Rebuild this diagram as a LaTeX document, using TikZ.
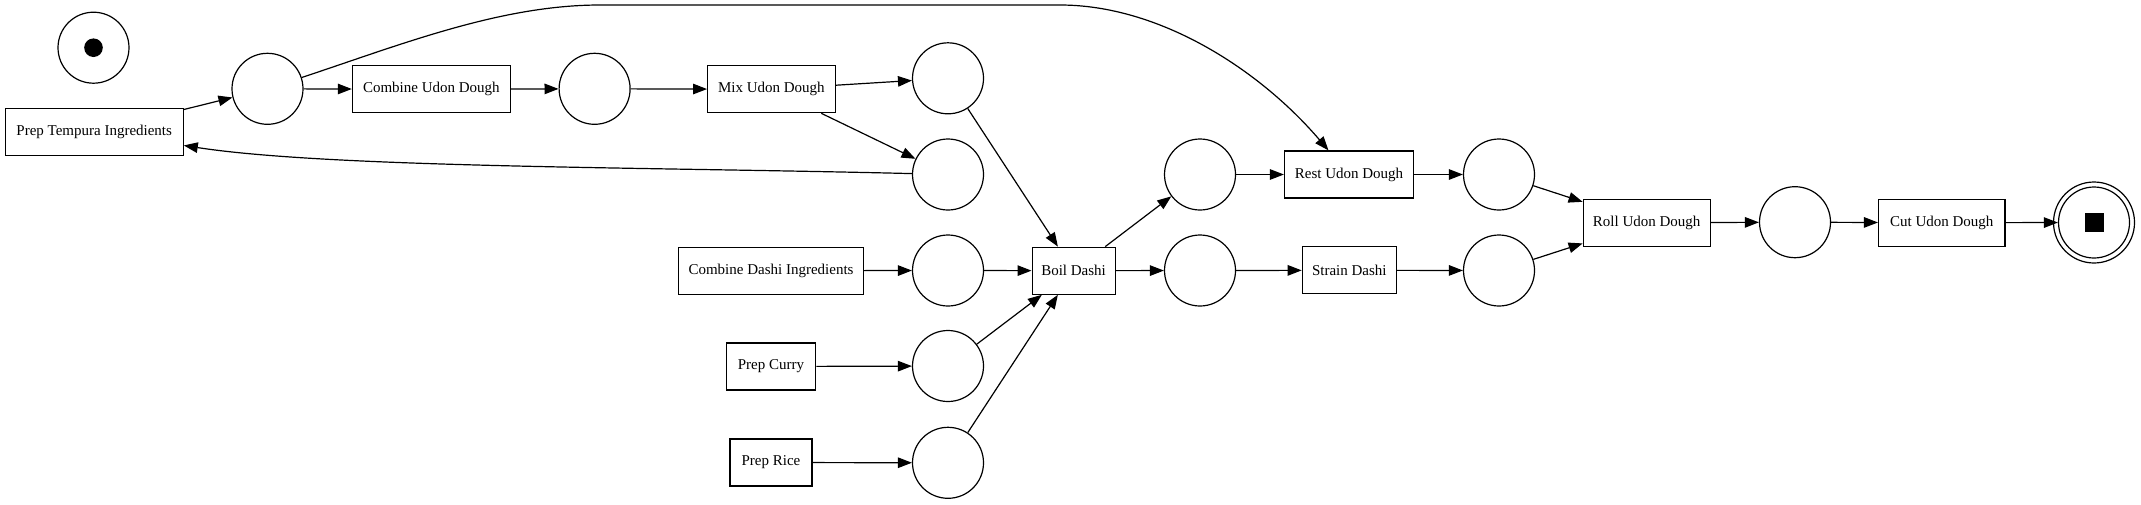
\documentclass[tikz,border=0pt]{standalone}
\usepackage{fontspec}
\setmainfont{Liberation Serif}
\usetikzlibrary{arrows.meta}
\begin{document}
\begin{tikzpicture}[x=1pt,y=-1pt,
  place/.style={draw, circle, minimum size=71pt, inner sep=0pt, line width=1.2pt},
  trans/.style={draw, rectangle, minimum height=47pt, inner sep=0pt, line width=1.2pt, font=\fontsize{15}{18}\selectfont},
  arc/.style={-{Triangle[length=14pt,width=10.5pt]}, line width=1.2pt},
]
\useasboundingbox (0,0) rectangle (2141,504);
% places
\node[place] (start) at (93.5,47.7) {};
\fill (start.center) circle (9.3pt);
\node[place] (p1) at (267.5,88.8) {};
\node[place] (p2) at (594.6,88.8) {};
\node[place] (p3) at (948,78.3) {};
\node[place] (p4) at (948,174.5) {};
\node[place] (p5) at (948,270.5) {};
\node[place] (p6) at (948,366) {};
\node[place] (p7) at (948,462.8) {};
\node[place] (p8) at (1200,174.5) {};
\node[place] (p9) at (1200,270.5) {};
\node[place] (p10) at (1499,174.5) {};
\node[place] (p11) at (1499,270.5) {};
\node[place] (p12) at (1795,222.2) {};
\node[place] (end) at (2094,222.5) {};
\draw[line width=1.2pt] (end.center) circle (40.5pt);
\fill ([xshift=-9.5pt,yshift=-9.5pt]end.center) rectangle ([xshift=9.5pt,yshift=9.5pt]end.center);
% transitions
\node[trans, minimum width=178pt] (tempura) at (94.2,131.7) {Prep Tempura Ingredients};
\node[trans, minimum width=158pt] (combU) at (431.4,89.2) {Combine Udon Dough};
\node[trans, minimum width=127.5pt] (mix) at (771.4,89.2) {Mix Udon Dough};
\node[trans, minimum width=185pt] (combD) at (771,270.7) {Combine Dashi Ingredients};
\node[trans, minimum width=89.5pt] (curry) at (771,366.5) {Prep Curry};
\node[trans, minimum width=82pt] (rice) at (771,462.5) {Prep Rice};
\node[trans, minimum width=83pt] (boil) at (1073.6,270.7) {Boil Dashi};
\node[trans, minimum width=129pt] (rest) at (1349,174.5) {Rest Udon Dough};
\node[trans, minimum width=94pt] (strain) at (1349.3,270.3) {Strain Dashi};
\node[trans, minimum width=127pt] (roll) at (1646.7,222.7) {Roll Udon Dough};
\node[trans, minimum width=126.5pt] (cut) at (1941.8,222.7) {Cut Udon Dough};
% arcs
\draw[arc] (tempura) -- (p1);
\draw[arc] (p1) -- (combU);
\draw[arc] (combU) -- (p2);
\draw[arc] (p2) -- (mix);
\draw[arc] (mix) -- (p3);
\draw[arc] (mix) -- (p4);
\draw[arc] (p4) .. controls (650,167) and (330,168) .. (tempura);
\draw[arc] (p1) .. controls (400,45) and (500,5) .. (600,5) -- (1060,5) .. controls (1160,5) and (1260,70) .. (rest);
\draw[arc] (p3) -- (boil);
\draw[arc] (combD) -- (p5);
\draw[arc] (p5) -- (boil);
\draw[arc] (curry) -- (p6);
\draw[arc] (p6) -- (boil);
\draw[arc] (rice) -- (p7);
\draw[arc] (p7) -- (boil);
\draw[arc] (boil) -- (p8);
\draw[arc] (boil) -- (p9);
\draw[arc] (p8) -- (rest);
\draw[arc] (p9) -- (strain);
\draw[arc] (rest) -- (p10);
\draw[arc] (strain) -- (p11);
\draw[arc] (p10) -- (roll);
\draw[arc] (p11) -- (roll);
\draw[arc] (roll) -- (p12);
\draw[arc] (p12) -- (cut);
\draw[arc] (cut) -- (end);
\end{tikzpicture}
\end{document}
